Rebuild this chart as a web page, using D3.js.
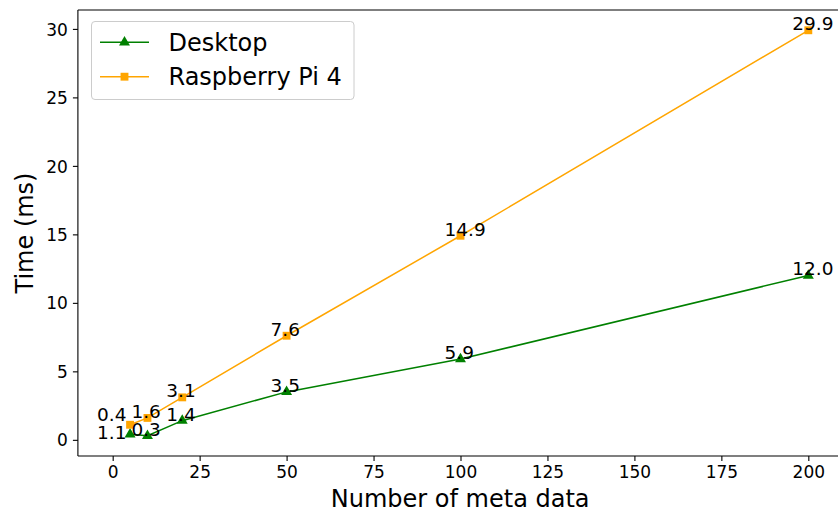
<!DOCTYPE html>
<html>
<head>
<meta charset="utf-8">
<script src="https://cdn.jsdelivr.net/npm/d3@7"></script>
<style>
  html, body { margin: 0; padding: 0; background: #fff; }
  svg { display: block; font-family: "DejaVu Sans", sans-serif; }
</style>
</head>
<body>
<svg id="chart" width="838" height="513"></svg>
<script>
// Processing time against number of meta data entries
const metaCounts = [5, 10, 20, 50, 100, 200];
const desktopMs = [0.4, 0.3, 1.4, 3.5, 5.9, 12.0];
const raspberryMs = [1.1, 1.6, 3.1, 7.6, 14.9, 29.9];
const seriesNames = ["Desktop", "Raspberry Pi 4"];
const xTickValues = [0, 25, 50, 75, 100, 125, 150, 175, 200];
const yTickValues = [0, 5, 10, 15, 20, 25, 30];

const svg = d3.select("#chart");

const x = d3.scaleLinear().domain([-10, 210]).range([77.9, 843.1]);
const y = d3.scaleLinear().domain([-1.18, 31.38]).range([456, 10]);

const series = [
  { name: seriesNames[0], values: desktopMs, color: "#008000", symbol: d3.symbolTriangle, size: 52 },
  { name: seriesNames[1], values: raspberryMs, color: "#ffa500", symbol: d3.symbolSquare, size: 62 }
];

// Axes
const xAxis = d3.axisBottom(x).tickValues(xTickValues).tickSize(5).tickPadding(5).tickSizeOuter(0);
const yAxis = d3.axisLeft(y).tickValues(yTickValues).tickSize(5).tickPadding(5).tickSizeOuter(0);

const gx = svg.append("g").attr("transform", `translate(0,${y.range()[0]})`).call(xAxis);
const gy = svg.append("g").attr("transform", `translate(${x.range()[0]},0)`).call(yAxis);
[gx, gy].forEach(g => {
  g.select(".domain").remove();
  g.selectAll(".tick line").attr("stroke", "#000").attr("stroke-width", 1.1);
  g.selectAll(".tick text").attr("fill", "#000").style("font-size", "17px").style("font-family", "DejaVu Sans");
});
gy.selectAll(".tick text").attr("dy", "0.36em");

// Spines: left, bottom, top (right edge falls outside the canvas)
const spine = svg.append("g").attr("stroke", "#000").attr("stroke-width", 1.1).attr("fill", "none");
const [x0, x1] = x.range();
const [yb, yt] = y.range();
spine.append("line").attr("x1", x0).attr("x2", x0).attr("y1", yt).attr("y2", yb);
spine.append("line").attr("x1", x0).attr("x2", x1).attr("y1", yb).attr("y2", yb);
spine.append("line").attr("x1", x0).attr("x2", x1).attr("y1", yt).attr("y2", yt);

// Axis titles
svg.append("text")
  .attr("x", (x0 + 842.5) / 2).attr("y", 506.5)
  .attr("text-anchor", "middle").style("font-size", "24px")
  .text("Number of meta data");
svg.append("text")
  .attr("transform", `translate(33,${(yt + yb) / 2}) rotate(-90)`)
  .attr("text-anchor", "middle").style("font-size", "24px")
  .text("Time (ms)");

// Lines and markers
const line = d3.line().x((d, i) => x(metaCounts[i])).y(d => y(d));
series.forEach(s => {
  svg.append("path").datum(s.values)
    .attr("d", line).attr("fill", "none")
    .attr("stroke", s.color).attr("stroke-width", 1.5);
  svg.append("g").selectAll("path").data(s.values).join("path")
    .attr("transform", (d, i) => `translate(${x(metaCounts[i])},${y(d)})`)
    .attr("d", d3.symbol().type(s.symbol).size(s.size))
    .attr("fill", s.color);
});

// Value labels; the two labels at the first, crowded category trade places
series.forEach((s, si) => {
  svg.append("g").selectAll("text").data(s.values).join("text")
    .attr("x", (d, i) => x(metaCounts[i]) - 16 - (i === 0 ? 17 : 0))
    .attr("y", (d, i) => y(d) + (i === 0 ? (si === 0 ? -13.5 : 14.5) : 0))
    .style("font-size", "18.5px")
    .attr("fill", "#000")
    .text(d => d.toFixed(1));
});

// Legend
const lg = svg.append("g");
lg.append("rect")
  .attr("x", 91.5).attr("y", 21.5).attr("width", 262.5).attr("height", 78)
  .attr("rx", 3.5).attr("fill", "#fff").attr("fill-opacity", 0.8)
  .attr("stroke", "#cccccc").attr("stroke-width", 1);
series.forEach((s, i) => {
  const ry = 42.3 + i * 34.4;
  lg.append("line").attr("x1", 100).attr("x2", 149).attr("y1", ry).attr("y2", ry)
    .attr("stroke", s.color).attr("stroke-width", 1.5);
  lg.append("path").attr("transform", `translate(124.5,${ry})`)
    .attr("d", d3.symbol().type(s.symbol).size(s.size)).attr("fill", s.color);
  lg.append("text").attr("x", 168.5).attr("y", ry + 8.6)
    .style("font-size", "24px").attr("fill", "#000").text(s.name);
});
</script>
</body>
</html>
